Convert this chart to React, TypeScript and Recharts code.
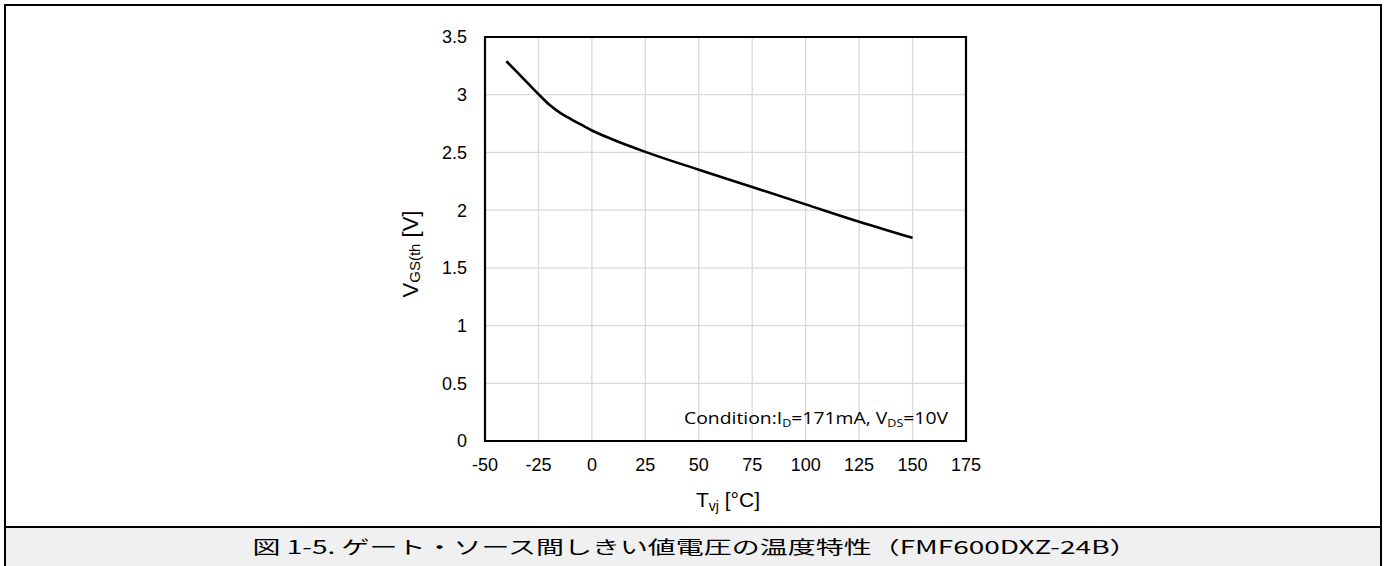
import React from "react";
import { LineChart, Line, XAxis, YAxis, CartesianGrid, ReferenceArea } from "recharts";

// Tvj [°C] vs VGS(th) [V]
const tempC = [-40, -35, -30, -25, -20, -15, -10, -5, 0, 10, 25, 50, 75, 100, 125, 150];
const vgsTh = [3.29, 3.195, 3.1, 3.005, 2.915, 2.845, 2.79, 2.74, 2.69, 2.61, 2.505, 2.35, 2.2, 2.05, 1.9, 1.76];

const xTicks = [-50, -25, 0, 25, 50, 75, 100, 125, 150, 175];
const yTicks = [0, 0.5, 1, 1.5, 2, 2.5, 3, 3.5];

const caption = "図 1-5. ゲート・ソース間しきい値電圧の温度特性（FMF600DXZ-24B）";

const W = 1389;
const H = 566;
const FONT = "Liberation Sans, Arial, sans-serif";

const data = tempC.map((t, i) => ({ t, v: vgsTh[i] }));

export default function App() {
  const tick = { fill: "#000", fontSize: 18, fontFamily: FONT };

  return (
    <div style={{ position: "absolute", left: 0, top: 0, width: W, height: H, overflow: "hidden", background: "#fff" }}>
      {/* outer frame + caption strip */}
      <div style={{ position: "absolute", left: 4, top: 4, width: 1378, height: 640, border: "2px solid #000", boxSizing: "border-box" }} />
      <div style={{ position: "absolute", left: 6, top: 526, width: 1374, height: 2, background: "#000" }} />
      <div style={{ position: "absolute", left: 6, top: 528, width: 1374, height: 60, background: "#f0f0f0" }} />

      <div style={{ position: "absolute", left: 0, top: 0, fontSize: 18, fontFamily: FONT }}>
        <LineChart width={W} height={H} data={data} margin={{ top: 37, right: 423, bottom: 95, left: 445 }}>
          <CartesianGrid stroke="#d9d9d9" strokeWidth={1.3} />
          <XAxis
            type="number"
            dataKey="t"
            domain={[-50, 175]}
            ticks={xTicks}
            interval={0}
            height={30}
            tickLine={false}
            tickSize={0}
            tickMargin={17}
            axisLine={false}
            fontSize={18}
            tick={tick}
          />
          <YAxis
            type="number"
            domain={[0, 3.5]}
            ticks={yTicks}
            interval={0}
            width={40}
            tickLine={false}
            tickSize={0}
            tickMargin={18}
            axisLine={false}
            fontSize={18}
            tick={tick}
          />
          <ReferenceArea x1={-50} x2={175} y1={0} y2={3.5} fill="none" stroke="#000" strokeWidth={2.2} ifOverflow="visible" />
          <Line
            type="monotone"
            dataKey="v"
            stroke="#000"
            strokeWidth={2.6}
            dot={false}
            isAnimationActive={false}
          />
        </LineChart>
      </div>

      {/* axis titles, condition note, caption */}
      <svg width={W} height={H} style={{ position: "absolute", left: 0, top: 0, pointerEvents: "none" }}>
        <text x={410} y={254} transform="rotate(-90 410 254)" textAnchor="middle" dominantBaseline="central" fontFamily={FONT} fontSize={22} fill="#000">
          V<tspan fontSize={15} dy={4}>GS(th</tspan>
          <tspan dy={-4}> [V]</tspan>
        </text>
        <text x={728} y={507} textAnchor="middle" fontFamily={FONT} fontSize={21} fill="#000">
          T<tspan fontSize={14} dy={4}>vj</tspan>
          <tspan dy={-4}> [°C]</tspan>
        </text>
        <text x={948} y={424} textAnchor="end" fontFamily="Open Sans, sans-serif" fontSize={17} textLength={264} lengthAdjust="spacingAndGlyphs" fill="#000">
          Condition:I<tspan fontSize={11} dy={3}>D</tspan>
          <tspan dy={-3}>=171mA, V</tspan>
          <tspan fontSize={11} dy={3}>DS</tspan>
          <tspan dy={-3}>=10V</tspan>
        </text>
        <text x={695} y={554} textAnchor="middle" fontFamily="Noto Sans CJK JP, sans-serif" fontSize={18} textLength={885} lengthAdjust="spacingAndGlyphs" fill="#000">
          {caption}
        </text>
      </svg>
    </div>
  );
}
